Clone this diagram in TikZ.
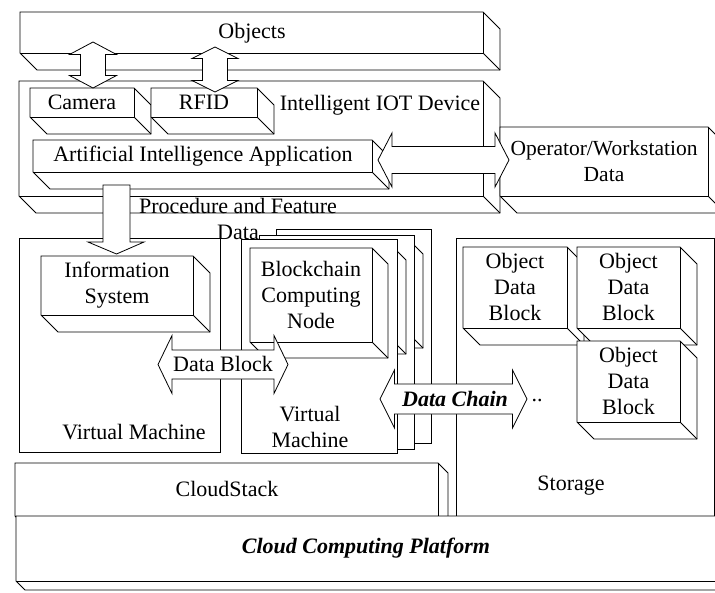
\documentclass[tikz,border=0pt]{standalone}
\usepackage{fontspec}
\setmainfont{Liberation Serif}
\tikzset{
  box/.style={draw=black, fill=white, line width=0.8pt, line join=miter},
  edge3d/.style={draw=black, line width=0.8pt},
  barrow/.style={draw=black, fill=white, line width=0.8pt, line join=miter},
  lbl/.style={font=\fontsize{22}{26}\selectfont, align=center, inner sep=0pt},
  blbl/.style={font=\fontsize{22}{26}\selectfont\bfseries\itshape, align=center, inner sep=0pt},
}
% 3D box: x1 y1 x2 y2 depth
\newcommand{\cubeshape}[5]{%
  \path[box] (#1,#2) -- (#3,#2) -- (#3+#5,#2+#5) -- (#3+#5,#4+#5) -- (#1+#5,#4+#5) -- (#1,#4) -- cycle;
  \draw[edge3d] (#3,#2) -- (#3,#4) -- (#1,#4);
  \draw[edge3d] (#3,#4) -- (#3+#5,#4+#5);
}
% horizontal double block arrow: x1 x2 cy shafthalf headhalf headlen
\newcommand{\hdarrow}[6]{%
  \path[barrow] (#1,#3) -- (#1+#6,#3-#5) -- (#1+#6,#3-#4) -- (#2-#6,#3-#4) -- (#2-#6,#3-#5) -- (#2,#3)
   -- (#2-#6,#3+#5) -- (#2-#6,#3+#4) -- (#1+#6,#3+#4) -- (#1+#6,#3+#5) -- cycle;
}
% vertical double block arrow: y1 y2 cx shafthalf headhalf headlen
\newcommand{\vdarrow}[6]{%
  \path[barrow] (#3,#1) -- (#3+#5,#1+#6) -- (#3+#4,#1+#6) -- (#3+#4,#2-#6) -- (#3+#5,#2-#6) -- (#3,#2)
   -- (#3-#5,#2-#6) -- (#3-#4,#2-#6) -- (#3-#4,#1+#6) -- (#3-#5,#1+#6) -- cycle;
}
\begin{document}
\begin{tikzpicture}[x=1pt,y=-1pt]
\useasboundingbox (0,0) rectangle (715,592);
\clip (0,0) rectangle (715,592);
\fill[white] (0,0) rectangle (715,592);

% Objects and IOT device
\cubeshape{20}{12}{483}{53}{17}
\cubeshape{19}{81}{483}{196}{17}
\cubeshape{30}{88}{134}{117}{17}
\cubeshape{151}{88}{257}{117}{17}
\cubeshape{33}{140}{372}{172}{17}
\cubeshape{500}{127}{708}{196}{17}

% arrows between objects and devices
\vdarrow{42}{88}{93}{12.5}{23.5}{12.5}
\vdarrow{47}{92}{215}{12.5}{23}{11.5}

% left virtual machine
\path[box] (19,238) rectangle (220,452);
\cubeshape{41}{256}{193}{315}{17}

% stack of virtual machines
\path[box] (276,229) rectangle (431,443);
\cubeshape{285}{238}{407}{332}{16}
\path[box] (259,235) rectangle (414,449);
\cubeshape{268}{244}{390}{338}{16}
\path[box] (241,239) rectangle (397,453);
\cubeshape{250}{248}{372}{342}{16}

% storage
\path[box] (456,238) rectangle (714,516);
\cubeshape{463}{247}{567}{328}{17}
\cubeshape{577}{247}{680}{328}{17}
\cubeshape{577}{341}{680}{422}{17}

% platform
\cubeshape{15}{463}{438}{516}{10}
\cubeshape{16}{516}{740}{581}{9}

% block arrows
\path[barrow] (103,185) -- (130,185) -- (130,242) -- (144,242) -- (116.5,254) -- (88,242) -- (103,242) -- cycle;
\hdarrow{378}{509}{160}{13.5}{27}{14}
\hdarrow{158}{288}{364.5}{14.5}{29}{14}
\hdarrow{380}{527}{399}{15}{29}{14.5}

% labels
\node[lbl] (objects) at (252,33) {Objects};
\node[lbl] (iot) at (380,105) {Intelligent IOT Device};
\node[lbl] (camera) at (82,102) {Camera};
\node[lbl] (rfid) at (204,102) {RFID};
\node[lbl] (ai) at (203,156) {Artificial Intelligence Application};
\node[lbl, font=\fontsize{21.5}{26}\selectfont] (oper) at (604,161) {Operator/Workstation\\Data};
\node[lbl] (proc) at (238,218.5) {Procedure and Feature\\Data};
\node[lbl] (info) at (117,285) {Information\\System};
\node[lbl] (vmleft) at (134,432) {Virtual Machine};
\node[lbl] (bcn) at (311,295) {Blockchain\\Computing\\Node};
\node[lbl] (vmfront) at (310,427) {Virtual\\Machine};
\node[lbl] (datablock) at (223,364) {Data Block};
\node[blbl] (datachain) at (455,399) {Data Chain};
\node[lbl] (dots) at (537,401) {..};
\node[lbl] (odb1) at (515,287) {Object\\Data\\Block};
\node[lbl] (odb2) at (628.5,287) {Object\\Data\\Block};
\node[lbl] (odb3) at (628.5,381) {Object\\Data\\Block};
\node[lbl] (storage) at (571,486) {Storage};
\node[lbl] (cloudstack) at (227,489) {CloudStack};
\node[blbl] (ccp) at (366,548) {Cloud Computing Platform};
\end{tikzpicture}
\end{document}
